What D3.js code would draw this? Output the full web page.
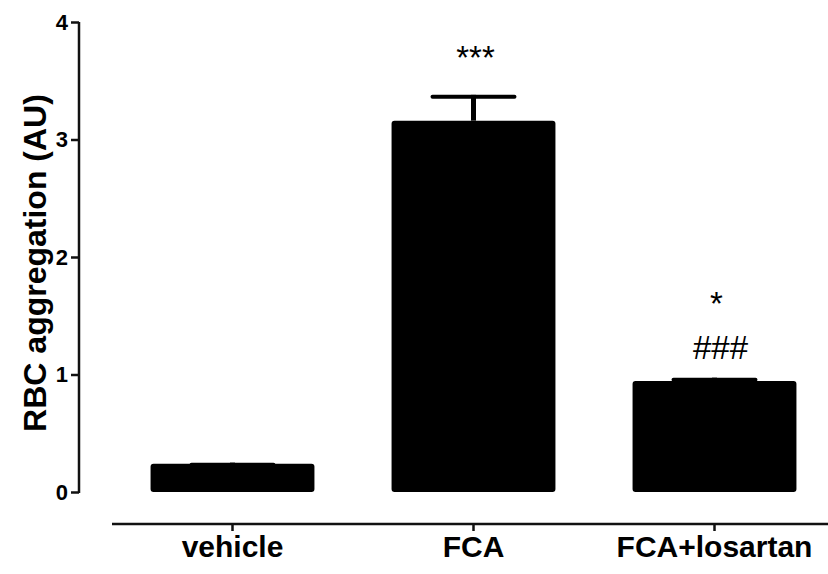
<!DOCTYPE html>
<html><head><meta charset="utf-8">
<script src="https://cdn.jsdelivr.net/npm/d3@7"></script>
<style>body{margin:0;background:#fff}svg{display:block}text{font-family:Arial,"Liberation Sans",sans-serif}</style>
</head><body><svg id="c" width="828" height="574"></svg>
<script>
const categories = ["vehicle", "FCA", "FCA+losartan"];
const means = [0.24, 3.16, 0.945];
const errors = [0.01, 0.22, 0.028];
const starLabels = ["", "***", "*"];
const hashLabels = ["", "", "###"];
const yTicks = [0, 1, 2, 3, 4];

const svg = d3.select("#c");
const x = d3.scaleBand().domain(categories).range([112, 835]).paddingInner(0.32).paddingOuter(0.16);
const y = d3.scaleLinear().domain([0, 4]).range([492, 22]);

// bars
svg.append("g").selectAll("rect").data(categories).join("rect")
  .attr("x", d => x(d)).attr("width", x.bandwidth())
  .attr("y", (d, i) => y(means[i])).attr("height", (d, i) => y(0) - y(means[i]))
  .attr("rx", 3).attr("fill", "#000");

// error bars
const eb = svg.append("g");
categories.forEach((c, i) => {
  const cx = x(c) + x.bandwidth() / 2;
  eb.append("line").attr("x1", cx).attr("x2", cx).attr("y1", y(means[i])).attr("y2", y(means[i] + errors[i]))
    .attr("stroke", "#000").attr("stroke-width", 5);
  eb.append("line").attr("x1", cx - x.bandwidth() / 4).attr("x2", cx + x.bandwidth() / 4)
    .attr("y1", y(means[i] + errors[i]) + 2).attr("y2", y(means[i] + errors[i]) + 2)
    .attr("stroke", "#000").attr("stroke-width", 4).attr("stroke-linecap", "round");
});

// annotations
const ann = svg.append("g").attr("text-anchor", "middle").attr("font-size", 33).attr("fill", "#000");
categories.forEach((c, i) => {
  const cx = x(c) + x.bandwidth() / 2;
  if (starLabels[i]) {
    const yy = hashLabels[i] ? y(means[i] + errors[i]) - 63 : y(means[i] + errors[i]) - 26;
    ann.append("text").attr("x", cx + 2).attr("y", yy).text(starLabels[i]);
  }
  if (hashLabels[i]) {
    ann.append("text").attr("x", cx + 6).attr("y", y(means[i] + errors[i]) - 19).text(hashLabels[i]);
  }
});

// y axis
const yAxis = svg.append("g").attr("transform", "translate(79,0)")
  .call(d3.axisLeft(y).tickValues(yTicks).tickFormat(d3.format("d")).tickSize(8).tickPadding(3));
yAxis.select(".domain").attr("d", `M0,${y(4)}V${y(0) + 1}`).attr("stroke", "#111").attr("stroke-width", 2.5);
yAxis.selectAll(".tick line").attr("stroke", "#111").attr("stroke-width", 2.5);
yAxis.selectAll(".tick text").attr("font-size", 22).attr("font-weight", "bold").attr("fill", "#000")
  .attr("font-family", "Arial, 'Liberation Sans', sans-serif");

// x axis
const xAxis = svg.append("g").attr("transform", "translate(0,524)")
  .call(d3.axisBottom(x).tickSize(7).tickPadding(10));
xAxis.select(".domain").attr("d", "M112,0H828").attr("stroke", "#111").attr("stroke-width", 2.5);
xAxis.selectAll(".tick line").attr("stroke", "#111").attr("stroke-width", 2.5);
xAxis.selectAll(".tick text").attr("font-size", 30).attr("font-weight", "bold").attr("fill", "#000")
  .attr("font-family", "Arial, 'Liberation Sans', sans-serif").attr("dy", "0.52em");

// y label
svg.append("text").attr("transform", "translate(46,263) rotate(-90)").attr("text-anchor", "middle")
  .attr("font-size", 32).attr("font-weight", "bold").attr("fill", "#000").text("RBC aggregation (AU)");
</script></body></html>
